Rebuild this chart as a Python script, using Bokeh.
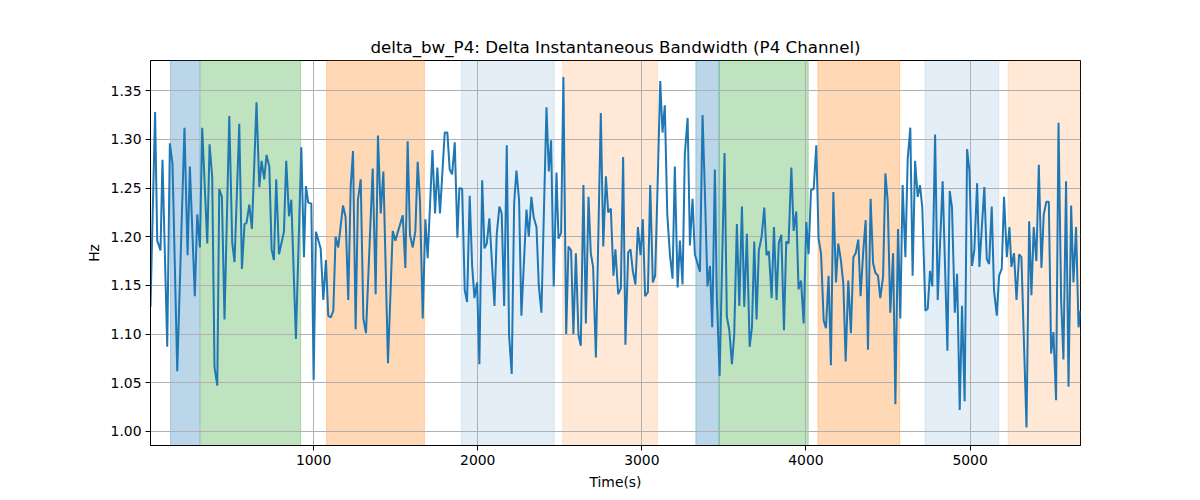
from bokeh.plotting import figure
from bokeh.models import BoxAnnotation, FixedTicker, PrintfTickFormatter, Range1d
from bokeh.embed import file_html
from bokeh.resources import INLINE

# delta bandwidth trace (P4 channel)
time_s = [6, 34, 47, 67, 79, 108, 124, 140, 169, 213, 232, 246, 276, 291, 307, 321, 352, 366, 382, 396,
          413, 425, 441, 457, 486, 504, 518, 547, 563, 579, 591, 608, 624, 652, 669, 683, 699, 713, 730, 744,
          758, 772, 789, 819, 833, 850, 864, 892, 925, 941, 953, 967, 986, 1000, 1014, 1043, 1059, 1075, 1089, 1104,
          1120, 1134, 1150, 1179, 1195, 1211, 1226, 1240, 1256, 1270, 1287, 1303, 1319, 1360, 1378, 1392, 1409, 1425, 1453, 1482,
          1498, 1543, 1559, 1573, 1587, 1604, 1620, 1634, 1648, 1665, 1681, 1695, 1724, 1740, 1754, 1770, 1799, 1815, 1829, 1844,
          1860, 1876, 1888, 1905, 1921, 1935, 1951, 1966, 1980, 1996, 2010, 2027, 2041, 2055, 2071, 2102, 2116, 2132, 2146, 2161,
          2177, 2191, 2207, 2222, 2236, 2252, 2266, 2297, 2311, 2327, 2341, 2358, 2372, 2388, 2419, 2433, 2447, 2463, 2480, 2492,
          2508, 2522, 2539, 2553, 2569, 2583, 2598, 2614, 2628, 2644, 2659, 2675, 2689, 2703, 2720, 2750, 2765, 2781, 2795, 2811,
          2827, 2839, 2856, 2872, 2886, 2900, 2917, 2931, 2945, 2961, 2976, 2992, 3006, 3020, 3037, 3051, 3067, 3081, 3096, 3112,
          3126, 3140, 3155, 3171, 3187, 3201, 3218, 3232, 3248, 3262, 3279, 3293, 3309, 3323, 3354, 3370, 3384, 3400, 3415, 3429,
          3445, 3457, 3474, 3504, 3518, 3533, 3549, 3563, 3579, 3594, 3610, 3624, 3640, 3657, 3671, 3685, 3699, 3713, 3730, 3746,
          3760, 3774, 3791, 3805, 3821, 3835, 3850, 3866, 3880, 3894, 3911, 3925, 3941, 3955, 3970, 3986, 4002, 4016, 4031, 4047,
          4063, 4077, 4092, 4108, 4122, 4138, 4152, 4167, 4183, 4197, 4213, 4228, 4242, 4258, 4274, 4289, 4303, 4319, 4333, 4350,
          4364, 4378, 4394, 4409, 4423, 4439, 4453, 4470, 4484, 4498, 4514, 4531, 4545, 4561, 4575, 4589, 4606, 4620, 4636, 4650,
          4665, 4681, 4695, 4709, 4728, 4742, 4756, 4770, 4787, 4803, 4833, 4862, 4876, 4890, 4907, 4921, 4937, 4951, 4967, 4982,
          4996, 5012, 5026, 5043, 5057, 5087, 5102, 5116, 5132, 5146, 5163, 5177, 5193, 5207, 5224, 5240, 5252, 5268, 5283, 5299,
          5313, 5344, 5360, 5374, 5388, 5404, 5419, 5435, 5449, 5465, 5480, 5494, 5508, 5524, 5539, 5555, 5569, 5585, 5600, 5616,
          5630, 5646, 5661, 5673]
delta_bw = [1.128, 1.328, 1.196, 1.186, 1.279, 1.087, 1.296, 1.275, 1.062, 1.312, 1.181, 1.272, 1.139, 1.223, 1.189, 1.312, 1.193, 1.295, 1.261, 1.066,
            1.047, 1.249, 1.241, 1.115, 1.324, 1.194, 1.174, 1.316, 1.167, 1.213, 1.214, 1.233, 1.208, 1.338, 1.251, 1.278, 1.259, 1.284, 1.272, 1.187,
            1.176, 1.259, 1.182, 1.205, 1.278, 1.221, 1.238, 1.095, 1.292, 1.179, 1.252, 1.235, 1.234, 1.053, 1.205, 1.188, 1.135, 1.176, 1.119, 1.117,
            1.124, 1.200, 1.189, 1.232, 1.220, 1.135, 1.252, 1.288, 1.105, 1.238, 1.259, 1.116, 1.101, 1.270, 1.141, 1.304, 1.224, 1.267, 1.070, 1.206,
            1.196, 1.222, 1.168, 1.298, 1.202, 1.189, 1.206, 1.277, 1.237, 1.116, 1.218, 1.178, 1.289, 1.224, 1.271, 1.224, 1.307, 1.307, 1.269, 1.264,
            1.297, 1.199, 1.250, 1.249, 1.145, 1.133, 1.242, 1.170, 1.137, 1.153, 1.069, 1.258, 1.188, 1.193, 1.219, 1.129, 1.203, 1.231, 1.224, 1.129,
            1.294, 1.099, 1.059, 1.235, 1.268, 1.237, 1.119, 1.228, 1.200, 1.241, 1.220, 1.210, 1.150, 1.122, 1.333, 1.267, 1.299, 1.149, 1.266, 1.198,
            1.204, 1.364, 1.100, 1.190, 1.186, 1.100, 1.183, 1.099, 1.088, 1.253, 1.111, 1.241, 1.183, 1.169, 1.076, 1.327, 1.190, 1.262, 1.225, 1.229,
            1.160, 1.187, 1.141, 1.147, 1.282, 1.089, 1.184, 1.187, 1.165, 1.151, 1.210, 1.181, 1.218, 1.139, 1.143, 1.253, 1.153, 1.160, 1.252, 1.360,
            1.307, 1.335, 1.223, 1.182, 1.157, 1.272, 1.148, 1.196, 1.151, 1.285, 1.322, 1.191, 1.239, 1.182, 1.164, 1.325, 1.247, 1.149, 1.170, 1.107,
            1.269, 1.137, 1.057, 1.286, 1.118, 1.104, 1.069, 1.100, 1.213, 1.129, 1.231, 1.128, 1.203, 1.087, 1.107, 1.195, 1.115, 1.186, 1.200, 1.230,
            1.181, 1.185, 1.137, 1.210, 1.135, 1.194, 1.202, 1.104, 1.195, 1.193, 1.271, 1.206, 1.226, 1.146, 1.155, 1.111, 1.215, 1.182, 1.248, 1.249,
            1.294, 1.198, 1.183, 1.114, 1.106, 1.160, 1.068, 1.246, 1.153, 1.193, 1.176, 1.151, 1.072, 1.155, 1.101, 1.179, 1.183, 1.197, 1.139, 1.187,
            1.217, 1.084, 1.239, 1.173, 1.163, 1.160, 1.137, 1.159, 1.265, 1.237, 1.122, 1.183, 1.028, 1.208, 1.116, 1.253, 1.179, 1.280, 1.312, 1.160,
            1.278, 1.241, 1.253, 1.230, 1.124, 1.126, 1.165, 1.149, 1.305, 1.135, 1.257, 1.083, 1.247, 1.230, 1.122, 1.162, 1.022, 1.129, 1.031, 1.290,
            1.268, 1.170, 1.186, 1.255, 1.169, 1.251, 1.177, 1.172, 1.231, 1.145, 1.119, 1.160, 1.167, 1.241, 1.179, 1.210, 1.169, 1.183, 1.135, 1.182,
            1.179, 1.004, 1.216, 1.140, 1.210, 1.175, 1.274, 1.168, 1.223, 1.236, 1.236, 1.080, 1.102, 1.032, 1.317, 1.135, 1.074, 1.257, 1.046, 1.232,
            1.153, 1.210, 1.107, 1.124]

# shaded phases (seconds) and their kind
phase_start = [128, 311, 1079, 1901, 2518, 3329, 3471, 4073, 4726, 5232]
phase_end = [305, 921, 1675, 2466, 3095, 3471, 4014, 4571, 5175, 5673]
phase_kind = ["blue", "green", "orange", "blue_light", "orange_light",
              "blue", "green", "orange", "blue_light", "orange_light"]

y_ticks = [1.00, 1.05, 1.10, 1.15, 1.20, 1.25, 1.30, 1.35]
x_ticks = [1000, 2000, 3000, 4000, 5000]

kind_style = {
    "blue": ("#1f77b4", 0.3),
    "green": ("#2ca02c", 0.3),
    "orange": ("#ff7f0e", 0.3),
    "blue_light": ("#1f77b4", 0.12),
    "orange_light": ("#ff7f0e", 0.17),
}

FONT = "DejaVu Sans"

p = figure(frame_width=930, frame_height=385,
           min_border_left=150, min_border_right=112, min_border_top=60, min_border_bottom=47,
           x_range=Range1d(6, 5673), y_range=Range1d(0.9856, 1.381),
           output_backend="svg", toolbar_location=None, tools="",
           title="delta_bw_P4: Delta Instantaneous Bandwidth (P4 Channel)")
p.title.align = "center"
p.title.text_font = FONT
p.title.text_font_size = "16.7px"
p.title.text_font_style = "normal"
p.title.text_color = "black"
p.title.standoff = 8

p.background_fill_color = "white"
p.border_fill_color = "white"
p.outline_line_color = "black"
p.outline_line_width = 1
p.outline_line_alpha = 1

for s, e, k in zip(phase_start, phase_end, phase_kind):
    col, a = kind_style[k]
    p.add_layout(BoxAnnotation(left=s, right=e, fill_color=col, fill_alpha=a,
                               line_color=col, line_alpha=a, line_width=1, level="image"))

p.line(time_s, delta_bw, line_color="#1f77b4", line_width=2)

p.xaxis.ticker = FixedTicker(ticks=x_ticks)
p.yaxis.ticker = FixedTicker(ticks=y_ticks)
p.yaxis.formatter = PrintfTickFormatter(format="%.2f")
p.xaxis.axis_label = "Time(s)"
p.yaxis.axis_label = "Hz"

for ax in (p.xaxis, p.yaxis):
    ax.major_tick_out = 5
    ax.major_tick_in = 0
    ax.minor_tick_out = 0
    ax.minor_tick_in = 0
    ax.axis_line_color = "black"
    ax.major_tick_line_color = "black"
    ax.major_label_text_font = FONT
    ax.major_label_text_font_size = "13.9px"
    ax.major_label_text_color = "black"
    ax.major_label_standoff = 4
    ax.axis_label_text_font = FONT
    ax.axis_label_text_font_size = "13.9px"
    ax.axis_label_text_font_style = "normal"
    ax.axis_label_text_color = "black"
    ax.axis_label_standoff = 6

for g in (p.xgrid, p.ygrid):
    g.grid_line_color = "#b0b0b0"
    g.grid_line_width = 1

open("out.html", "w").write(file_html(p, INLINE))
